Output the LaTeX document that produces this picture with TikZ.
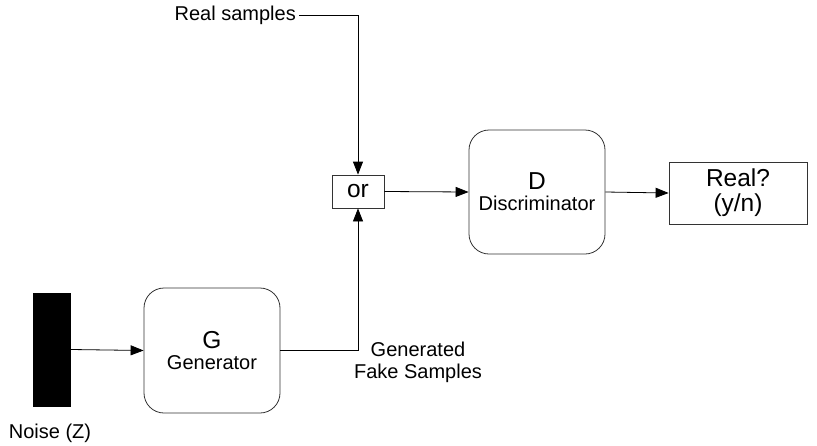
\documentclass[tikz,border=0pt]{standalone}
\usepackage{fontspec}
\setmainfont{Liberation Sans}
\usetikzlibrary{arrows.meta, positioning}

\begin{document}
\begin{tikzpicture}[
  x=1pt, y=-1pt,
  font=\fontsize{20}{23}\selectfont,
  blk/.style={rectangle, rounded corners=20pt, draw=black!80, line width=0.8pt,
              minimum width=136pt, minimum height=125pt, align=center,
              inner sep=0pt},
  plainbox/.style={rectangle, draw=black!80, line width=0.8pt, align=center,
                   inner sep=0pt},
  big/.style={font=\fontsize{24.5}{26}\selectfont},
  arrow/.style={-{Triangle[length=13pt, width=10pt]}, line width=0.8pt}
]
\useasboundingbox (0,0) rectangle (817,445);

% Rausch-Eingang
\node[rectangle, fill=black, minimum width=38pt, minimum height=114pt,
      inner sep=0pt] (noise) at (52,349.5) {};
\node (noiselbl) at (50,433) {Noise (Z)};

% Generator und Diskriminator
\node[blk] (gen) at (212,350.5)
  {{\fontsize{24.5}{26}\selectfont G}\\[-2pt]Generator};
\node[blk, minimum height=124pt] (disc) at (537,192)
  {{\fontsize{24.5}{26}\selectfont D}\\[-2pt]Discriminator};

% Auswahl und Ausgabe
\node[plainbox, big, minimum width=52pt, minimum height=33pt] (orbox) at (358,191.5) {or};
\node[plainbox, big, minimum width=138pt, minimum height=62pt] (real) at (738,193)
  {Real?\\[-1pt](y/n)};

% Beschriftungen
\node[anchor=east, inner sep=3pt] (realsrc) at (299,15) {Real samples};
\node[align=center] (fake) at (418,362) {Generated\\[-1pt]Fake Samples};

% Pfeile
\draw[arrow] (noise.east) -- (gen.west);
\draw[arrow] (gen.east) -| (orbox.south);
\draw[arrow] (realsrc.east) -| (orbox.north);
\draw[arrow] (orbox.east) -- (disc.west);
\draw[arrow] (disc.east) -- (real.west);

\end{tikzpicture}
\end{document}
